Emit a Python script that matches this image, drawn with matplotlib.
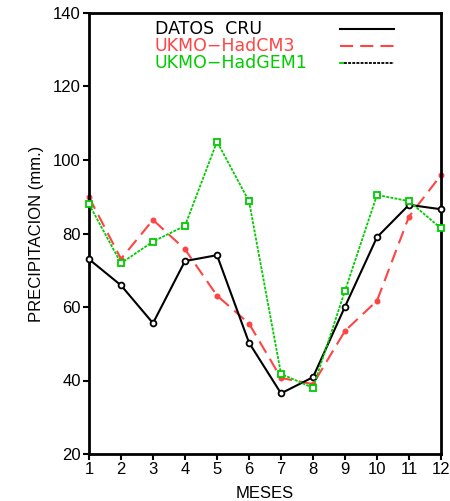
import matplotlib
matplotlib.use("Agg")
import matplotlib.pyplot as plt

meses = list(range(1, 13))
datos_cru = [73.0, 65.9, 55.6, 72.5, 74.1, 50.3, 36.5, 40.9, 60.1, 79.0, 87.8, 86.6]
had_cm3 = [89.9, 73.1, 83.7, 75.7, 63.1, 55.5, 40.7, 39.0, 53.5, 61.7, 84.6, 95.9]
had_gem1 = [88.0, 71.9, 77.8, 82.1, 105.0, 88.8, 41.8, 38.0, 64.4, 90.5, 88.8, 81.4]

series_names = ["DATOS  CRU", "UKMO\u2212HadCM3", "UKMO\u2212HadGEM1"]
y_ticks = [20, 40, 60, 80, 100, 120, 140]

plt.rcParams["font.family"] = ["Liberation Sans", "DejaVu Sans"]

fig = plt.figure(figsize=(4.5, 5.01), dpi=100)
ax = fig.add_axes([89 / 450, 47 / 501, 352 / 450, 441 / 501])

red = "#ff4444"
green = "#00cc00"
red_dash = (6.3, 3.4)
green_dash = (1.6, 0.7)

ax.plot(meses, datos_cru, color="black", lw=1.5, marker="o", ms=4.2,
        mfc="white", mec="black", mew=1.3, zorder=3, clip_on=False)
ax.plot(meses, had_cm3, color=red, lw=1.5, dashes=red_dash, marker="o", ms=3.3,
        mfc=red, mec=red, zorder=2, clip_on=False)
ax.plot(meses, had_gem1, color=green, lw=1.3, dashes=green_dash, marker="s", ms=4.2,
        mfc="white", mec=green, mew=1.3, zorder=4, clip_on=False)

ax.set_xlim(1, 12)
ax.set_ylim(20, 140)
ax.set_xticks(meses)
ax.set_yticks(y_ticks)
ax.tick_params(direction="out", length=4, width=1.5, labelsize=12, pad=2)
for s in ax.spines.values():
    s.set_linewidth(2)

ax.set_xlabel("MESES", fontsize=12, labelpad=6)
ax.set_ylabel("PRECIPITACION (mm.)", fontsize=12, labelpad=6)

# key drawn inside the plot area
tr = ax.transAxes
colors = ["black", red, green]
ys = [(454 - 29) / 441, (454 - 46) / 441, (454 - 63) / 441]
x_text = (155 - 89) / 352
x0, x1 = (340 - 89) / 352, (394 - 89) / 352
for name, c, yy in zip(series_names, colors, ys):
    ax.text(x_text, yy, name, color=c, fontsize=12.5, va="center", ha="left",
            transform=tr, family=["DejaVu Sans"])
ax.plot([x0, x1], [ys[0]] * 2, color="black", lw=1.5, transform=tr)
ax.plot([x0, x1], [ys[1]] * 2, color=red, lw=1.5, dashes=red_dash, transform=tr)
ax.plot([x0, x0 + 0.01], [ys[2]] * 2, color=green, lw=1.3, transform=tr)
ax.plot([x0 + 0.01, x1], [ys[2]] * 2, color="black", lw=1.3, dashes=green_dash, transform=tr)

fig.savefig("out.png", dpi=100)
